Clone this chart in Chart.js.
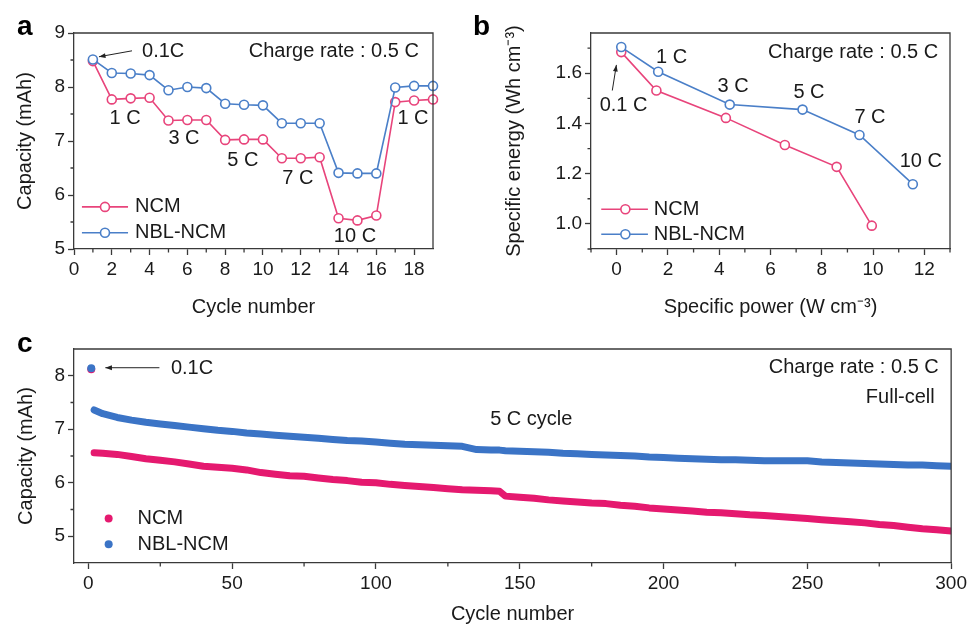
<!DOCTYPE html>
<html>
<head>
<meta charset="utf-8">
<script src="https://cdn.jsdelivr.net/npm/chart.js@4.4.1/dist/chart.umd.min.js"></script>
<style>
html, body { margin: 0; padding: 0; background: #fff; }
#wrap { position: relative; width: 970px; height: 626px; overflow: hidden; background: #fff; }
canvas { position: absolute; }
</style>
</head>
<body>
<div id="wrap">
  <canvas id="chartA" width="480" height="320" style="left:0;top:0;width:480px;height:320px"></canvas>
  <canvas id="chartB" width="510" height="320" style="left:460px;top:0;width:510px;height:320px"></canvas>
  <canvas id="chartC" width="970" height="306" style="left:0;top:320px;width:970px;height:306px"></canvas>
</div>
<script>
// (a) rate capability, charge 0.5 C
const rateCycles = [1, 2, 3, 4, 5, 6, 7, 8, 9, 10, 11, 12, 13, 14, 15, 16, 17, 18, 19];
const rateNCM = [8.48, 7.77, 7.79, 7.80, 7.38, 7.39, 7.39, 7.02, 7.03, 7.03, 6.68, 6.68, 6.70, 5.57, 5.53, 5.62, 7.72, 7.75, 7.77];
const rateNBL = [8.51, 8.26, 8.25, 8.22, 7.94, 8.00, 7.98, 7.69, 7.67, 7.66, 7.33, 7.33, 7.33, 6.41, 6.40, 6.40, 7.99, 8.02, 8.02];
const rateXTicks = [0, 2, 4, 6, 8, 10, 12, 14, 16, 18];
const rateYTicks = [5, 6, 7, 8, 9];

// (b) specific energy vs specific power
const powerNCM = [0.18, 1.55, 4.26, 6.56, 8.58, 9.95];
const energyNCM = [1.684, 1.531, 1.422, 1.314, 1.227, 0.993];
const powerNBL = [0.18, 1.62, 4.41, 7.25, 9.47, 11.55];
const energyNBL = [1.704, 1.606, 1.475, 1.455, 1.354, 1.158];
const ragoneXTicks = [0, 2, 4, 6, 8, 10, 12];
const ragoneYTicks = [1.0, 1.2, 1.4, 1.6];

// (c) 5 C cycling, full cell
const lifeCycles = [2, 5, 10, 15, 20, 25, 30, 35, 40, 45, 50, 55, 60, 65, 70, 75, 80, 85, 90, 95, 100,
  105, 110, 115, 120, 125, 130, 135, 140, 143, 145, 150, 155, 160, 165, 170, 175, 180, 185, 190, 195, 200,
  205, 210, 215, 220, 225, 230, 235, 240, 245, 250, 255, 260, 265, 270, 275, 280, 285, 290, 295, 300];
const lifeNCM = [6.56, 6.55, 6.53, 6.49, 6.45, 6.42, 6.39, 6.35, 6.31, 6.29, 6.27, 6.24, 6.19, 6.16, 6.13, 6.12, 6.09, 6.06, 6.04, 6.01, 6.00,
  5.97, 5.95, 5.93, 5.91, 5.89, 5.87, 5.86, 5.85, 5.84, 5.75, 5.73, 5.71, 5.68, 5.66, 5.64, 5.62, 5.61, 5.58, 5.56, 5.53, 5.51,
  5.49, 5.47, 5.45, 5.44, 5.42, 5.40, 5.39, 5.37, 5.35, 5.33, 5.31, 5.29, 5.27, 5.25, 5.22, 5.20, 5.17, 5.14, 5.12, 5.10];
const lifeNBL = [7.36, 7.29, 7.22, 7.17, 7.13, 7.10, 7.07, 7.04, 7.01, 6.98, 6.96, 6.93, 6.91, 6.89, 6.87, 6.85, 6.83, 6.81, 6.79, 6.78, 6.76,
  6.74, 6.72, 6.71, 6.70, 6.69, 6.68, 6.62, 6.61, 6.61, 6.60, 6.59, 6.58, 6.57, 6.55, 6.54, 6.53, 6.52, 6.51, 6.50, 6.48, 6.47,
  6.46, 6.45, 6.44, 6.43, 6.43, 6.42, 6.41, 6.41, 6.41, 6.41, 6.39, 6.38, 6.37, 6.36, 6.35, 6.34, 6.33, 6.33, 6.32, 6.31];
const formationCycle = [1];
const formationNCM = [8.12];
const formationNBL = [8.14];
const lifeXTicks = [0, 50, 100, 150, 200, 250, 300];
const lifeYTicks = [5, 6, 7, 8];

const pink = '#e8447b', blue = '#4a7fc8';
const pinkC = '#e5196f', blueC = '#3b74c6';
const axisColor = '#3a3a3a', textColor = '#1a1a1a';
const FONT = "'Liberation Sans', Arial, Helvetica, sans-serif";

Chart.defaults.font.family = FONT;
Chart.defaults.color = textColor;

function pts(xs, ys) { return xs.map((x, i) => ({ x: x, y: ys[i] })); }

function axis(min, max, ticks, fmt, title, titlePad, size) {
  return {
    type: 'linear', min: min, max: max,
    afterBuildTicks: s => { s.ticks = ticks.map(v => ({ value: v })); },
    afterFit: s => { if (s.isHorizontal()) s.height = size; else s.width = size; },
    ticks: { font: { size: 19 }, color: textColor, padding: 3, autoSkip: false, maxRotation: 0, callback: fmt },
    grid: { display: true, drawOnChartArea: false, tickLength: 6, tickColor: axisColor, tickWidth: 1.3 },
    border: { display: true, color: axisColor, width: 1.3 },
    title: { display: true, text: title, font: { size: 20 }, color: textColor, padding: titlePad }
  };
}

function decor(o) {
  return {
    id: 'decor',
    afterDraw(chart) {
      const ctx = chart.ctx, a = chart.chartArea, sx = chart.scales.x, sy = chart.scales.y;
      const px = v => sx.getPixelForValue(v), py = v => sy.getPixelForValue(v);
      ctx.save();
      ctx.strokeStyle = axisColor;
      ctx.lineWidth = 1.3;
      ctx.beginPath();
      ctx.moveTo(a.left, a.top); ctx.lineTo(a.right, a.top); ctx.lineTo(a.right, a.bottom);
      ctx.stroke();
      // minor ticks
      ctx.beginPath();
      o.minorX.forEach(v => { const x = px(v); ctx.moveTo(x, a.bottom); ctx.lineTo(x, a.bottom + 3.5); });
      o.minorY.forEach(v => { const y = py(v); ctx.moveTo(a.left - 3.5, y); ctx.lineTo(a.left, y); });
      ctx.stroke();
      // arrows
      (o.arrows || []).forEach(ar => {
        const x1 = px(ar[0]), y1 = py(ar[1]), x2 = px(ar[2]), y2 = py(ar[3]);
        const ang = Math.atan2(y2 - y1, x2 - x1);
        ctx.strokeStyle = '#222'; ctx.fillStyle = '#222'; ctx.lineWidth = 1;
        ctx.beginPath(); ctx.moveTo(x1, y1); ctx.lineTo(x2, y2); ctx.stroke();
        ctx.beginPath();
        ctx.moveTo(x2, y2);
        ctx.lineTo(x2 - 7 * Math.cos(ang - 0.35), y2 - 7 * Math.sin(ang - 0.35));
        ctx.lineTo(x2 - 7 * Math.cos(ang + 0.35), y2 - 7 * Math.sin(ang + 0.35));
        ctx.closePath(); ctx.fill();
      });
      // notes
      ctx.fillStyle = textColor;
      ctx.font = '20px ' + FONT;
      ctx.textBaseline = 'middle';
      o.notes.forEach(n => {
        ctx.textAlign = n.align || 'center';
        ctx.fillText(n.text, px(n.x), py(n.y));
      });
      // legend
      o.legend.forEach(l => {
        const y = py(l.y);
        if (l.line) {
          ctx.strokeStyle = l.color; ctx.lineWidth = 1.6;
          ctx.beginPath(); ctx.moveTo(px(l.line[0]), y); ctx.lineTo(px(l.line[1]), y); ctx.stroke();
          ctx.fillStyle = '#fff';
          ctx.beginPath(); ctx.arc(px(l.mark), y, 4.5, 0, Math.PI * 2); ctx.fill(); ctx.stroke();
        } else {
          ctx.fillStyle = l.color;
          ctx.beginPath(); ctx.arc(px(l.mark), y, 4, 0, Math.PI * 2); ctx.fill();
        }
        ctx.fillStyle = textColor; ctx.textAlign = 'left';
        ctx.fillText(l.text, px(l.textX), y);
      });
      // panel letter
      ctx.font = 'bold 28px ' + FONT;
      ctx.textAlign = 'left'; ctx.textBaseline = 'alphabetic';
      ctx.fillStyle = '#000';
      ctx.fillText(o.letter[0], o.letter[1], o.letter[2]);
      ctx.restore();
    }
  };
}

function lineSet(label, data, color, order) {
  return {
    label: label, data: data, borderColor: color, backgroundColor: '#fff',
    borderWidth: 1.6, pointRadius: 4.5, pointBorderWidth: 1.6, pointBackgroundColor: '#fff',
    pointBorderColor: color, tension: 0, order: order, clip: false
  };
}

const common = {
  responsive: false, animation: false, devicePixelRatio: 1,
  plugins: { legend: { display: false }, tooltip: { enabled: false } },
  events: []
};

// ---- panel a ----
new Chart(document.getElementById('chartA'), {
  type: 'line',
  data: {
    datasets: [
      lineSet('NCM', pts(rateCycles, rateNCM), pink, 2),
      lineSet('NBL-NCM', pts(rateCycles, rateNBL), blue, 1)
    ]
  },
  options: Object.assign({}, common, {
    layout: { padding: { top: 33, right: 47, bottom: 0, left: 0 } },
    scales: {
      x: axis(0, 19, rateXTicks, v => String(v), 'Cycle number', { top: 0, bottom: 1 }, 71),
      y: axis(5, 9, rateYTicks, v => String(v), 'Capacity (mAh)', { top: 13, bottom: 0 }, 74)
    }
  }),
  plugins: [decor({
    minorX: [1, 3, 5, 7, 9, 11, 13, 15, 17],
    minorY: [5.5, 6.5, 7.5, 8.5],
    arrows: [[3.07, 8.67, 1.32, 8.56]],
    notes: [
      { text: '0.1C', x: 3.6, y: 8.65, align: 'left' },
      { text: 'Charge rate : 0.5 C', x: 18.25, y: 8.65, align: 'right' },
      { text: '1 C', x: 2.7, y: 7.41 },
      { text: '3 C', x: 5.82, y: 7.04 },
      { text: '5 C', x: 8.94, y: 6.63 },
      { text: '7 C', x: 11.85, y: 6.31 },
      { text: '10 C', x: 14.87, y: 5.24 },
      { text: '1 C', x: 17.94, y: 7.41 }
    ],
    legend: [
      { text: 'NCM', color: pink, y: 5.78, line: [0.42, 2.86], mark: 1.64, textX: 3.23 },
      { text: 'NBL-NCM', color: blue, y: 5.30, line: [0.42, 2.86], mark: 1.64, textX: 3.23 }
    ],
    letter: ['a', 17, 35]
  })]
});

// ---- panel b ----
new Chart(document.getElementById('chartB'), {
  type: 'line',
  data: {
    datasets: [
      lineSet('NCM', pts(powerNCM, energyNCM), pink, 2),
      lineSet('NBL-NCM', pts(powerNBL, energyNBL), blue, 1)
    ]
  },
  options: Object.assign({}, common, {
    layout: { padding: { top: 33, right: 20, bottom: 0, left: 0 } },
    scales: {
      x: axis(-1, 13, ragoneXTicks, v => String(v), 'Specific power (W cm\u207B\u00B3)', { top: 0, bottom: 1 }, 71),
      y: axis(0.9, 1.76, ragoneYTicks, v => v.toFixed(1), 'Specific energy (Wh cm\u207B\u00B3)', { top: 42, bottom: 0 }, 131)
    }
  }),
  plugins: [decor({
    minorX: [-1, 1, 3, 5, 7, 9, 11, 13],
    minorY: [0.9, 1.1, 1.3, 1.5, 1.7],
    arrows: [[-0.17, 1.531, -0.01, 1.633]],
    notes: [
      { text: 'Charge rate : 0.5 C', x: 12.54, y: 1.684, align: 'right' },
      { text: '0.1 C', x: 0.27, y: 1.47 },
      { text: '1 C', x: 2.14, y: 1.664 },
      { text: '3 C', x: 4.54, y: 1.549 },
      { text: '5 C', x: 7.5, y: 1.523 },
      { text: '7 C', x: 9.88, y: 1.425 },
      { text: '10 C', x: 11.86, y: 1.248 }
    ],
    legend: [
      { text: 'NCM', color: pink, y: 1.058, line: [-0.6, 1.22], mark: 0.34, textX: 1.45 },
      { text: 'NBL-NCM', color: blue, y: 0.959, line: [-0.6, 1.22], mark: 0.34, textX: 1.45 }
    ],
    letter: ['b', 13, 35]
  })]
});

// ---- panel c ----
new Chart(document.getElementById('chartC'), {
  type: 'line',
  data: {
    datasets: [
      { label: 'NCM 0.1C', data: pts(formationCycle, formationNCM), showLine: false, pointRadius: 4, pointBackgroundColor: pinkC, pointBorderWidth: 0, order: 2 },
      { label: 'NBL-NCM 0.1C', data: pts(formationCycle, formationNBL), showLine: false, pointRadius: 4, pointBackgroundColor: blueC, pointBorderWidth: 0, order: 1 },
      { label: 'NCM', data: pts(lifeCycles, lifeNCM), borderColor: pinkC, borderWidth: 7, pointRadius: 0, borderCapStyle: 'round', borderJoinStyle: 'round', tension: 0, order: 4 },
      { label: 'NBL-NCM', data: pts(lifeCycles, lifeNBL), borderColor: blueC, borderWidth: 7, pointRadius: 0, borderCapStyle: 'round', borderJoinStyle: 'round', tension: 0, order: 3 }
    ]
  },
  options: Object.assign({}, common, {
    layout: { padding: { top: 29, right: 18, bottom: 0, left: 0 } },
    scales: {
      x: axis(-5, 300, lifeXTicks, v => String(v), 'Cycle number', { top: 0, bottom: 0 }, 63),
      y: axis(4.5, 8.5, lifeYTicks, v => String(v), 'Capacity (mAh)', { top: 14, bottom: 0 }, 74)
    }
  }),
  plugins: [decor({
    minorX: [25, 75, 125, 175, 225, 275],
    minorY: [5.5, 6.5, 7.5],
    arrows: [[24.7, 8.15, 5.9, 8.15]],
    notes: [
      { text: '0.1C', x: 28.7, y: 8.13, align: 'left' },
      { text: '5 C cycle', x: 154, y: 7.18 },
      { text: 'Charge rate : 0.5 C', x: 295.7, y: 8.15, align: 'right' },
      { text: 'Full-cell', x: 294.3, y: 7.60, align: 'right' }
    ],
    legend: [
      { text: 'NCM', color: pinkC, y: 5.33, mark: 7.05, textX: 17.1 },
      { text: 'NBL-NCM', color: blueC, y: 4.85, mark: 7.05, textX: 17.1 }
    ],
    letter: ['c', 17, 32]
  })]
});
</script>
</body>
</html>
